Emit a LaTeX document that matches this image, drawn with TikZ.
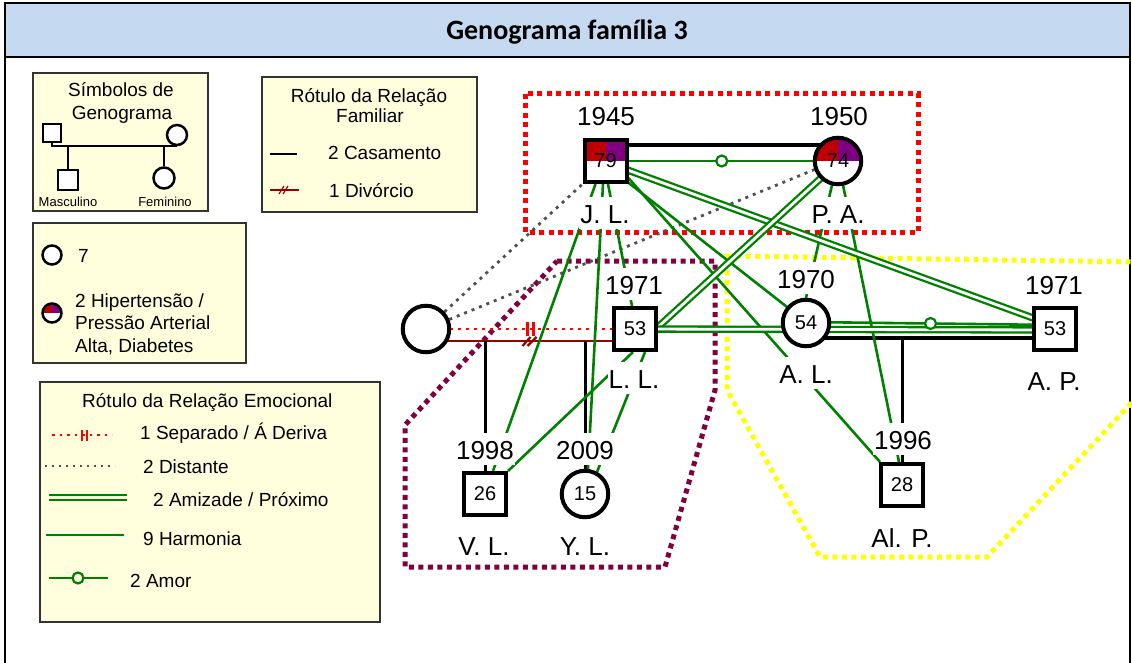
\documentclass[tikz,border=0pt]{standalone}
\usepackage{fontspec}
\setmainfont{Liberation Sans}
\newfontfamily\titlefont{Carlito}
\usetikzlibrary{calc}
\definecolor{titlebg}{HTML}{C5D9F1}
\definecolor{legbg}{HTML}{FFFFDD}
\definecolor{hgreen}{HTML}{008000}
\definecolor{hred}{HTML}{C00000}
\definecolor{hpurple}{HTML}{800080}
\definecolor{divred}{HTML}{990000}
\definecolor{dgrey}{HTML}{505050}
\definecolor{polypurple}{HTML}{800040}
\definecolor{polyyellow}{HTML}{FFFF00}
\pgfdeclarelayer{bg}
\pgfdeclarelayer{lines}
\pgfsetlayers{bg,lines,main}
\newcommand\fsLbl{\fontsize{26}{30}\selectfont}
\newcommand\fsLeg{\fontsize{19}{22}\selectfont}
\newcommand\fsNum{\fontsize{20}{24}\selectfont}
\newcommand\fsTiny{\fontsize{13}{15}\selectfont}
\tikzset{
  halfcol/.style={path picture={
      \fill[hred] (path picture bounding box.north west) rectangle (path picture bounding box.center);
      \fill[hpurple] (path picture bounding box.north east) rectangle (path picture bounding box.center);}},
  sq/.style={draw, line width=4pt, fill=white, minimum size=42pt, inner sep=0pt, font=\fsNum},
  ci/.style={circle, draw, line width=4pt, fill=white, minimum size=46.5pt, inner sep=0pt, font=\fsNum},
  lbl/.style={fill=white, font=\fsLbl, anchor=base, inner xsep=1pt, inner ysep=6pt, text height=20pt, text depth=0pt},
  harm/.style={draw=hgreen, line width=2.6pt},
  amiz/.style={draw=hgreen, double=white, double distance=2.8pt, line width=2.3pt},
  amorc/.style={circle, draw=hgreen, fill=white, line width=2.2pt, minimum size=11pt, inner sep=0pt},
  marr/.style={draw=black, line width=4pt},
  chl/.style={draw=black, line width=3pt},
  dist/.style={draw=dgrey, line width=2.8pt, dash pattern=on 3pt off 5pt},
  sepl/.style={draw=red, line width=2.8pt, dash pattern=on 3pt off 5pt},
  divl/.style={draw=divred, line width=2.8pt},
  legbox/.style={fill=legbg, draw=black!80, line width=1.2pt},
  legt/.style={font=\fsLeg, anchor=base west, inner sep=0pt},
  legc/.style={font=\fsLeg, anchor=base, inner sep=0pt},
  lsqs/.style={draw, line width=2.5pt, fill=white, inner sep=0pt},
  lcis/.style={circle, draw, line width=2.5pt, fill=white, inner sep=0pt},
  polydot/.style={line width=5pt, dash pattern=on 5pt off 4.5pt, line join=miter}
}
\begin{document}
\begin{tikzpicture}[x=1pt,y=-1pt]
\useasboundingbox (0,0) rectangle (1132,663);

% ---------- frame and title ----------
\begin{pgfonlayer}{bg}
\fill[white] (0,0) rectangle (1132,663);
\fill[titlebg] (5,3) rectangle (1130,57);
\draw[line width=2.2pt] (5,670) -- (5,3) -- (1130,3) -- (1130,670);
\draw[line width=2.8pt] (5,57) -- (1130,57);
% group outlines
\draw[polydot, red] (525,94) rectangle (918,232);
\draw[polydot, polypurple] (557,261) -- (715,261) -- (715,390) -- (665,567) -- (405,567) -- (405,425) -- cycle;
\draw[polydot, polyyellow] (1140,262) -- (727,256) -- (727,390) -- (820,557) -- (987,557) -- (1140,394);
\end{pgfonlayer}
\node[font={\titlefont\bfseries\fontsize{28}{32}\selectfont}, anchor=base, inner sep=0pt] (title) at (567,40) {Genograma família 3};

% ---------- legend: symbols ----------
\draw[legbox] (33,73) rectangle (208,211);
\node[legc] (lt1) at (121,97) {Símbolos de};
\node[legc] (lt2) at (122,120) {Genograma};
\node[lsqs, minimum size=18pt] (lsq) at (52,133) {};
\node[lcis, minimum size=20pt] (lci) at (177,135) {};
\node[lsqs, minimum size=20pt] (lsq2) at (68,180) {};
\node[lcis, minimum size=21pt] (lci2) at (164,178) {};
\draw[line width=1.6pt] (lsq.south) |- (lci.south);
\draw[line width=1.6pt] (lsq2.north) -- (lsq2.north |- lci.south);
\draw[line width=1.6pt] (lci2.north) -- (lci2.north |- lci.south);
\node[font=\fsTiny, anchor=base, inner sep=0pt] (lm) at (68,207) {Masculino};
\node[font=\fsTiny, anchor=base, inner sep=0pt] (lf) at (165,207) {Feminino};

% ---------- legend: conditions ----------
\draw[legbox] (33,223) rectangle (246,363);
\node[lcis, minimum size=19pt] (l7) at (52,255) {};
\node[legt] (l7t) at (78,262) {7};
\node[lcis, halfcol, minimum size=19pt] (lhd) at (52,313) {};
\node[legt] (lh1) at (75,307) {2 Hipertensão /};
\node[legt] (lh2) at (75,329) {Pressão Arterial};
\node[legt] (lh3) at (75,352) {Alta, Diabetes};

% ---------- legend: family relations ----------
\draw[legbox] (262,77) rectangle (477,212);
\node[legc] (lr1) at (369,103) {Rótulo da Relação};
\node[legc] (lr2) at (370,123) {Familiar};
\draw[line width=1.8pt] (270,154) -- (297,154);
\node[legt] (lcas) at (328,160) {2 Casamento};
\draw[divred, line width=1.8pt] (270,190) -- (299,190);
\draw[divred, line width=1.2pt] (279,194) -- (284,186) (283,194) -- (288,186);
\node[legt] (ldiv) at (329,197) {1 Divórcio};

% ---------- legend: emotional relations ----------
\draw[legbox] (40,382) rectangle (380,622);
\node[legt] (le0) at (82,407) {Rótulo da Relação Emocional};
\draw[red, line width=2pt, dash pattern=on 2.5pt off 5pt] (52,435) -- (112,435);
\draw[red, line width=1.8pt] (82,430) -- (82,441) (87,430) -- (87,441);
\node[legt] (le1) at (140,439) {1 Separado / Á Deriva};
\draw[dgrey, line width=2pt, dash pattern=on 2pt off 5pt] (45,466) -- (115,466);
\node[legt] (le2) at (143,473) {2 Distante};
\draw[draw=hgreen, double=legbg, double distance=2.8pt, line width=1.8pt] (49,497.5) -- (127,497.5);
\node[legt] (le3) at (153,506) {2 Amizade / Próximo};
\draw[harm] (46,535) -- (124,535);
\node[legt] (le4) at (143,545) {9 Harmonia};
\draw[harm] (49,578) -- (108,578);
\node[amorc, fill=legbg] (lam) at (78,578) {};
\node[legt] (le5) at (130,587) {2 Amor};

% ---------- people ----------
\node[sq, halfcol] (JL) at (605.5,161) {79};
\node[ci, halfcol] (PA) at (838,161) {74};
\node[ci] (EX) at (426,329) {};
\node[sq] (LL) at (635,329) {53};
\node[ci] (AL) at (806,323) {54};
\node[sq] (AP) at (1055,329) {53};
\node[sq] (VL) at (485,494) {26};
\node[ci] (YL) at (585,494) {15};
\node[sq] (ALP) at (902,485) {28};

% ---------- relations ----------
\begin{pgfonlayer}{lines}
% family lines
\draw[marr] ($(JL.center)+(0,-16)$) -- ($(PA.center)+(0,-16)$);
\draw[marr] ($(AL.center)+(0,15)$) coordinate (alm) -- ($(AP.center)+(0,9)$);
\draw[chl] (ALP.center |- alm) -- (ALP.center);
\draw[divl] ($(EX.center)+(0,12)$) -- coordinate[pos=.5] (divm) ($(LL.center)+(0,12)$);
\draw[divred, line width=2.2pt] ($(divm)+(-8,5)$) -- ++(8,-9) ($(divm)+(-3,5)$) -- ++(9,-9);
\draw[sepl] (EX.center) -- coordinate[pos=.5] (sepm) (LL.center);
\draw[red, line width=2.4pt] ($(sepm)+(-3,-7)$) -- ++(0,14) ($(sepm)+(3,-7)$) -- ++(0,14);
\draw[chl] (VL.center |- divm) -- (VL.center);
\draw[chl] (YL.center |- divm) -- (YL.center);
% distant
\draw[dist] (EX) -- (JL.south west);
\draw[dist] (EX) -- (PA.200);
% harmony
\draw[harm] ($(JL.center)+(-10,23)$) -- ($(VL.center)+(8,-23)$);
\draw[harm] ($(JL.center)+(-2.5,23)$) -- ($(YL.center)+(3,-25)$);
\draw[harm] ($(JL.center)+(2.5,23)$) -- ($(LL.center)+(-3,-23)$);
\draw[harm] ($(JL.center)+(22,21)$) -- ($(AL.center)+(-19,-16)$);
\draw[harm] ($(JL.center)+(22,16)$) -- ($(ALP.center)+(-22,-23)$);
\draw[harm] ($(PA.center)+(-6,24)$) -- ($(AL.center)+(0,-25)$);
\draw[harm] ($(PA.center)+(5,24)$) -- ($(ALP.center)+(-3,-23)$);
\draw[harm] ($(LL.center)+(-2,23)$) -- ($(VL.center)+(23,-23)$);
\draw[harm] ($(LL.center)+(10,23)$) -- ($(YL.center)+(12,-22)$);
% friendship
\draw[amiz] ($(JL.center)+(22,9)$) -- ($(AP.center)+(-22,-11)$);
\draw[amiz] ($(PA.center)+(-17,17)$) -- ($(LL.center)+(22,-1)$);
\draw[amiz] (LL.center) -- ($(AP.center)+(0,1)$);
% love
\draw[harm] (JL.center) -- node[amorc] (am1) {} (PA.center);
\draw[harm] ($(AL.center)+(0,-1)$) -- node[amorc] (am2) {} ($(AP.center)+(0,-4)$);
\end{pgfonlayer}

% ---------- labels ----------
\node[lbl] (yJL) at (606,126) {1945};
\node[lbl] (yPA) at (839,126) {1950};
\node[lbl] (yLL) at (634,294) {1971};
\node[lbl] (yAL) at (806,288) {1970};
\node[lbl] (yAP) at (1054,294) {1971};
\node[lbl] (yVL) at (485,459) {1998};
\node[lbl] (yYL) at (585,459) {2009};
\node[lbl] (yALP) at (903,449) {1996};
\node[lbl] (nJL) at (605,223) {J. L.};
\node[lbl] (nPA) at (838,223) {P. A.};
\node[lbl] (nLL) at (634,388) {L. L.};
\node[lbl] (nAL) at (806,383) {A. L.};
\node[lbl] (nAP) at (1054,390) {A. P.};
\node[lbl] (nVL) at (484,555) {V. L.};
\node[lbl] (nYL) at (585,555) {Y. L.};
\node[lbl] (nALP) at (902,547) {Al. P.};
\end{tikzpicture}
\end{document}
